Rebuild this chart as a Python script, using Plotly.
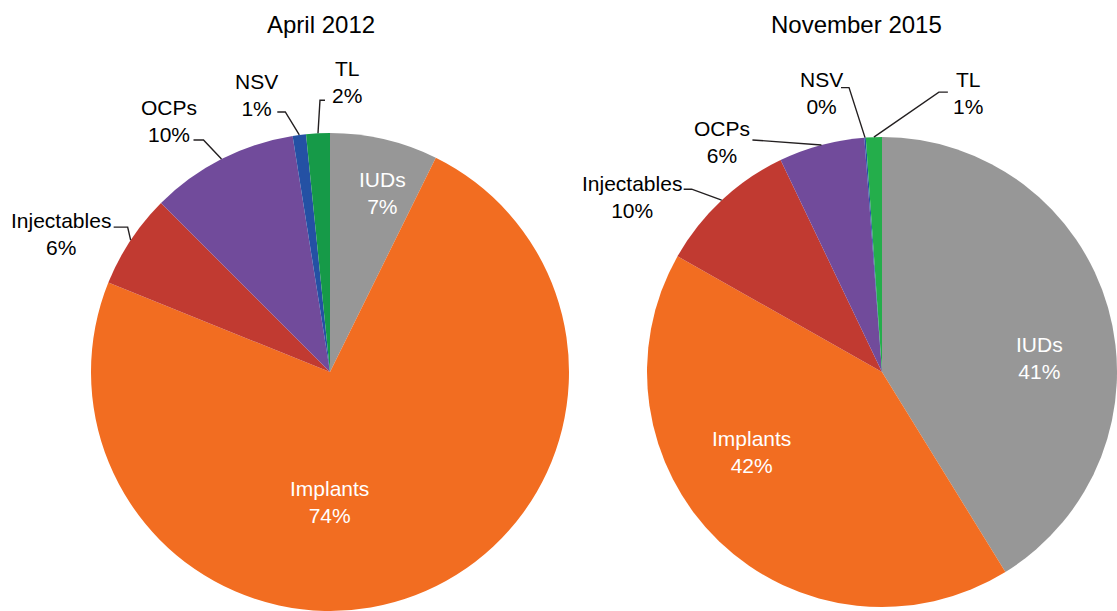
import math
import plotly.graph_objects as go

# ---------------- data ----------------
categories = ["IUDs", "Implants", "Injectables", "OCPs", "NSV", "TL"]
april_2012 = [7.3, 73.8, 6.4, 10.0, 0.9, 1.6]
november_2015 = [41.2, 42.0, 9.7, 5.9, 0.1, 1.1]
panel_titles = ["April 2012", "November 2015"]

# ---------------- style ----------------
W, H = 1117, 611
colors_2012 = ["#979797", "#F26D21", "#C13A31", "#714B9B", "#2451A4", "#169A48"]
colors_2015 = ["#979797", "#F26D21", "#C13A31", "#714B9B", "#2451A4", "#24AE4B"]
FONT = "Liberation Sans, Arial, Helvetica, sans-serif"
LABEL_SIZE = 21
TITLE_SIZE = 24
LINE_COLOR = "#231F20"

# pie domains in window pixels: (x0, x1, ytop, ybottom)
domains_px = [(90, 570, 133, 611), (647, 1117, 133, 611)]
title_px = [(321, 25), (856, 25)]

# inside labels: (angle deg clockwise from 12 o'clock, radius fraction)
inside_style = [
    {"IUDs": (16.4, 0.78), "Implants": (180.4, 0.546)},
    {"IUDs": (84.9, 0.671), "Implants": (238.5, 0.652)},
]
# outside labels: offsets in px from the slice-edge tip:
# (text centre), (elbow), (line end next to text)
outside_style = [
    {
        "Injectables": ((-70, -6), (-3, -13), (-17, -13)),
        "OCPs": ((-52, -38), (-18, -19), (-28, -19)),
        "NSV": ((-43, -40), (-14, -23), (-22, -23)),
        "TL": ((29, -51), (2, -33), (7, -33)),
    },
    {
        "Injectables": ((-90, -3), (-30, -11), (-38, -11)),
        "OCPs": ((-99, -3), (-69, -5), (-69, -5)),
        "NSV": ((-44, -45), (-16, -50), (-24, -50)),
        "TL": ((94, -44), (65, -45), (74, -45)),
    },
]


def px(x, y):
    """pixel -> paper fraction"""
    return x / W, 1 - y / H


fig = go.Figure()
annotations = []
shapes = []

series = [april_2012, november_2015]
palettes = [colors_2012, colors_2015]

for i, vals in enumerate(series):
    x0, x1, yt, yb = domains_px[i]
    dx0, dy1 = px(x0, yt)
    dx1, dy0 = px(x1, yb)
    fig.add_trace(go.Pie(
        labels=categories,
        values=vals,
        sort=False,
        direction="clockwise",
        rotation=0,
        marker=dict(colors=palettes[i], line=dict(width=0)),
        textinfo="none",
        hoverinfo="label+percent",
        showlegend=False,
        domain=dict(x=[max(dx0, 0), min(dx1, 1)], y=[max(dy0, 0), min(dy1, 1)]),
    ))
    # pie geometry as plotly computes it
    cx = (x0 + x1) / 2
    cy = (yt + yb) / 2
    r = min(x1 - x0, yb - yt) / 2
    total = sum(vals)
    cum = 0.0
    for cat, v in zip(categories, vals):
        mid = (cum + v / 2) / total * 360.0
        cum += v
        text = f"{cat}<br>{round(v / total * 100)}%"
        if cat in inside_style[i]:
            ang, frac = inside_style[i][cat]
            tx = cx + frac * r * math.sin(math.radians(ang))
            ty = cy - frac * r * math.cos(math.radians(ang))
            ax_, ay_ = px(tx, ty)
            annotations.append(dict(
                x=ax_, y=ay_, xref="paper", yref="paper", text=text,
                showarrow=False, xanchor="center", yanchor="middle",
                font=dict(family=FONT, size=LABEL_SIZE, color="white"),
            ))
        else:
            tipx = cx + r * math.sin(math.radians(mid))
            tipy = cy - r * math.cos(math.radians(mid))
            (tdx, tdy), (edx, edy), (ndx, ndy) = outside_style[i][cat]
            ax_, ay_ = px(tipx + tdx, tipy + tdy)
            annotations.append(dict(
                x=ax_, y=ay_, xref="paper", yref="paper", text=text,
                showarrow=False, xanchor="center", yanchor="middle",
                font=dict(family=FONT, size=LABEL_SIZE, color="black"),
            ))
            p0 = px(tipx, tipy)
            p1 = px(tipx + edx, tipy + edy)
            p2 = px(tipx + ndx, tipy + ndy)
            shapes.append(dict(
                type="path", xref="paper", yref="paper",
                path=f"M {p0[0]} {p0[1]} L {p1[0]} {p1[1]} L {p2[0]} {p2[1]}",
                line=dict(color=LINE_COLOR, width=1.4),
            ))
    tx, ty = px(*title_px[i])
    annotations.append(dict(
        x=tx, y=ty, xref="paper", yref="paper", text=panel_titles[i],
        showarrow=False, xanchor="center", yanchor="middle",
        font=dict(family=FONT, size=TITLE_SIZE, color="black"),
    ))

fig.update_layout(
    width=W, height=H,
    margin=dict(l=0, r=0, t=0, b=0),
    paper_bgcolor="white",
    plot_bgcolor="white",
    annotations=annotations,
    shapes=shapes,
    showlegend=False,
)

fig.write_html(
    "out.html",
    config={"displayModeBar": False},
    post_script="document.body.style.margin='0';document.body.style.overflow='hidden';",
)
